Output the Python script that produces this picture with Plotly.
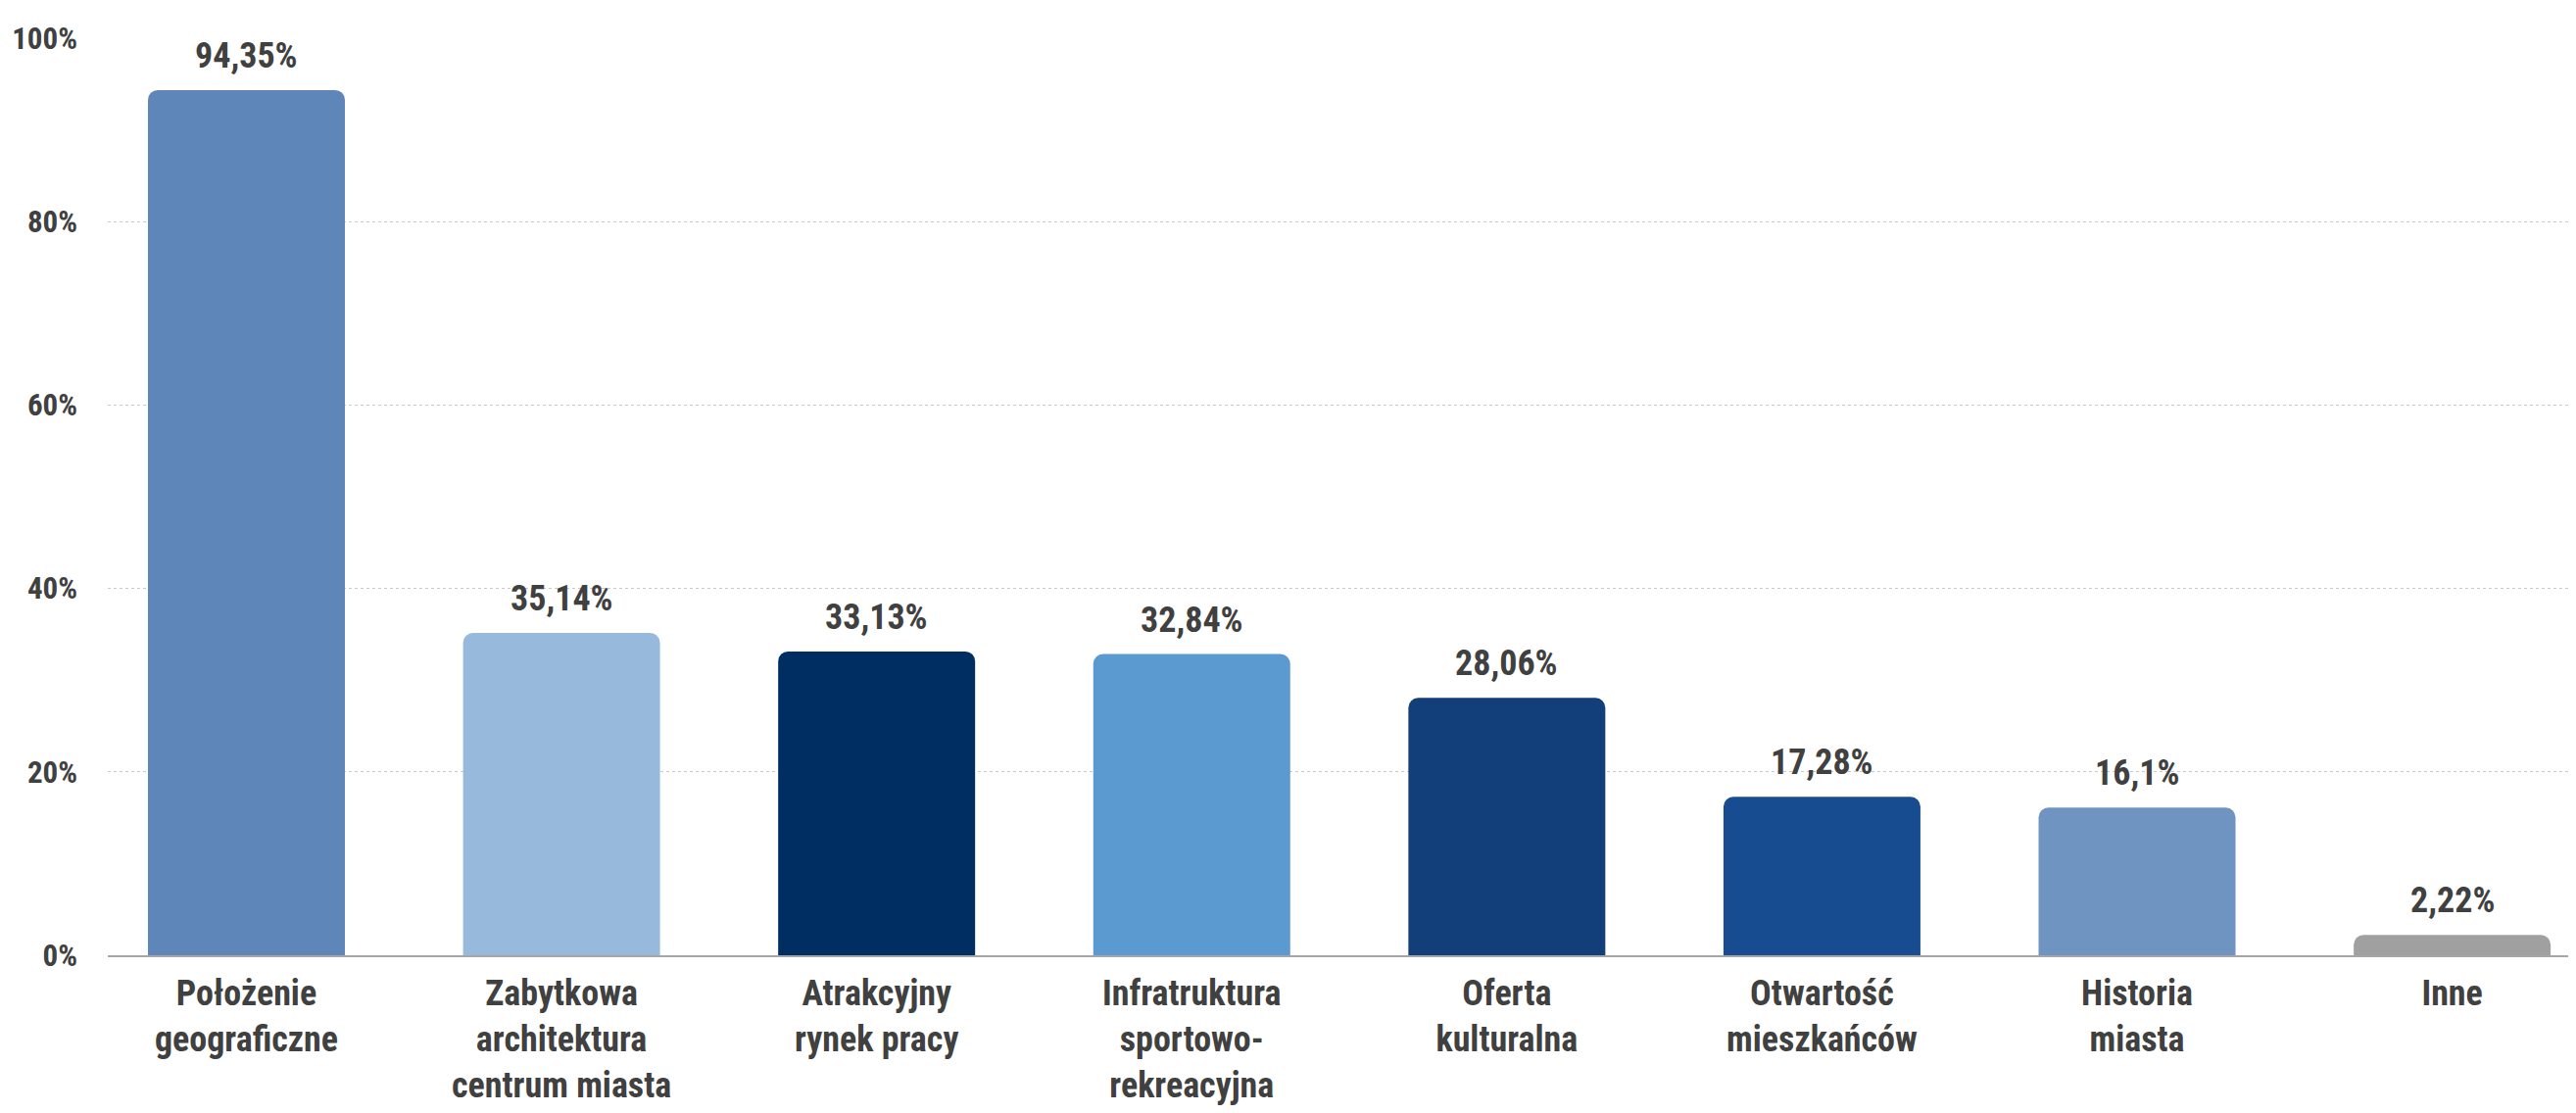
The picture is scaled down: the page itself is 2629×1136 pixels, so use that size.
import plotly.graph_objects as go

categories = [
    "Położenie<br>geograficzne",
    "Zabytkowa<br>architektura<br>centrum miasta",
    "Atrakcyjny<br>rynek pracy",
    "Infratruktura<br>sportowo-<br>rekreacyjna",
    "Oferta<br>kulturalna",
    "Otwartość<br>mieszkańców",
    "Historia<br>miasta",
    "Inne",
]
values = [94.35, 35.14, 33.13, 32.84, 28.06, 17.28, 16.1, 2.22]
colors = ["#5E86B9", "#96B9DC", "#002D62", "#5B9AD0", "#123E79", "#174D90", "#6F94C2", "#A0A0A0"]
y_ticks = [0, 20, 40, 60, 80, 100]
y_tick_labels = ["0%", "20%", "40%", "60%", "80%", "100%"]

FONT = "Roboto Condensed, Roboto, Liberation Sans, sans-serif"
TXT = "#404040"
FS = 36

labels = [f"{v}".replace(".", ",") + "%" for v in values]
xs = list(range(len(categories)))

fig = go.Figure()
fig.add_trace(go.Bar(
    x=xs, y=values,
    marker=dict(color=colors, cornerradius=10, line=dict(width=0)),
    width=0.625,
    hoverinfo="skip",
))

for x, v, t in zip(xs, values, labels):
    fig.add_annotation(x=x, y=v, text=t, showarrow=False, yanchor="bottom",
                       yshift=12, font=dict(family=FONT, size=FS, color=TXT, weight="bold"))

# page body has an 8px default margin; compensate so the plot lands where the reference has it
fig.update_layout(
    width=2621, height=1128,
    margin=dict(l=102, r=0, t=31, b=161),
    paper_bgcolor="white", plot_bgcolor="white",
    showlegend=False,
    font=dict(family=FONT, size=FS, color=TXT, weight="bold"),
    xaxis=dict(
        tickmode="array", tickvals=xs, ticktext=categories,
        range=[-0.44, 7.393], automargin=False,
        showgrid=False, zeroline=False,
        showline=True, linecolor="#A6A6A6", linewidth=2,
        ticks="", ticklabelstandoff=6,
        tickfont=dict(family=FONT, size=FS, color=TXT, weight="bold"),
    ),
    yaxis=dict(
        range=[0, 100], tickmode="array", tickvals=y_ticks, ticktext=y_tick_labels,
        automargin=False,
        showgrid=True, gridcolor="#C8C8C8", griddash="dot", gridwidth=1,
        zeroline=False, showline=False, ticks="", ticklabelstandoff=30,
        tickfont=dict(family=FONT, size=31, color=TXT, weight="bold"),
    ),
)

fig.write_html("out.html")
